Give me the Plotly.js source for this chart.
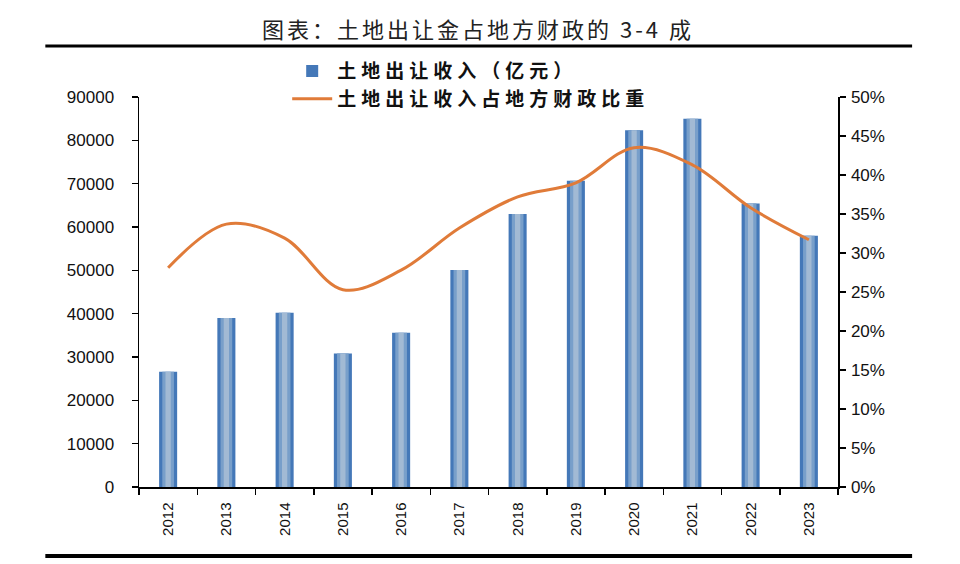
<!DOCTYPE html>
<html>
<head>
<meta charset="utf-8">
<script src="https://cdn.plot.ly/plotly-3.0.1.min.js"></script>
<style>
html,body{margin:0;padding:0;background:#fff;}
#chart{width:960px;height:564px;}
#chart .legendtext{letter-spacing:5px;}
#chart .legend .scrollbox, #chart .legend g{clip-path:none !important;}
#chart .annotation-text{letter-spacing:3px;}
</style>
</head>
<body>
<div id="chart"></div>
<script>
const years = ['2012','2013','2014','2015','2016','2017','2018','2019','2020','2021','2022','2023'];
const landRevenue = [26600, 39000, 40200, 30800, 35600, 50100, 63000, 70700, 82300, 85000, 65400, 58000];
const landShare = [0.281, 0.337, 0.319, 0.253, 0.278, 0.332, 0.372, 0.390, 0.435, 0.413, 0.358, 0.317];
const leftTicks = [0,10000,20000,30000,40000,50000,60000,70000,80000,90000];
const rightTicks = [0,0.05,0.10,0.15,0.20,0.25,0.30,0.35,0.40,0.45,0.50];
const titleText = '图表：土地出让金占地方财政的 3-4 成';
const barName = '土地出让收入（亿元）';
const lineName = '土地出让收入占地方财政比重';

const tickFont = {family:'Liberation Sans, Arial, sans-serif', size:17, color:'#111'};

const traces = [
  {type:'bar', x:years, y:landRevenue, name:barName, width:0.31,
   marker:{color:'#4478b8', line:{width:0}}, yaxis:'y', hoverinfo:'skip'},
  {type:'bar', x:years, y:landRevenue, width:0.2, showlegend:false,
   marker:{color:'#789fca', line:{width:0}}, yaxis:'y', hoverinfo:'skip'},
  {type:'bar', x:years, y:landRevenue, width:0.09, showlegend:false,
   marker:{color:'#a2bad4', line:{width:0}}, yaxis:'y', hoverinfo:'skip'},
  {type:'scatter', mode:'lines', x:years, y:landShare, name:lineName, yaxis:'y2',
   line:{color:'#e07b39', width:3, shape:'spline', smoothing:1}}
];

const layout = {
  width:960, height:564,
  paper_bgcolor:'#fff', plot_bgcolor:'#fff',
  margin:{l:139, r:122, t:97, b:77},
  barmode:'overlay',
  showlegend:true,
  legend:{x:0.212, xanchor:'left', y:1.115, yanchor:'top', orientation:'v',
    font:{family:'Noto Sans CJK SC', size:19, color:'#111', weight:700},
    bgcolor:'rgba(0,0,0,0)', traceorder:'normal', itemwidth:40, tracegroupgap:0},
  xaxis:{type:'category', showgrid:false, zeroline:false, showline:true, linecolor:'#000', linewidth:1.5,
    ticks:'outside', tickson:'boundaries', ticklen:6, tickcolor:'#000', tickwidth:1.5,
    tickangle:-90, tickfont:{family:'Liberation Sans, Arial, sans-serif', size:15, color:'#111'},
    ticklabelstandoff:8, range:[-0.5,11.5]},
  yaxis:{range:[0,90000], tickvals:leftTicks, ticktext:leftTicks.map(String), showgrid:false, zeroline:false,
    showline:true, linecolor:'#000', linewidth:1.5, ticks:'outside', ticklen:6, tickcolor:'#000', tickwidth:1.5,
    tickfont:tickFont, ticklabelstandoff:14},
  yaxis2:{range:[0,0.5], overlaying:'y', side:'right', tickvals:rightTicks,
    ticktext:rightTicks.map(v=>Math.round(v*100)+'%'), showgrid:false, zeroline:false,
    showline:true, linecolor:'#000', linewidth:1.5, ticks:'outside', ticklen:6, tickcolor:'#000', tickwidth:1.5,
    tickfont:tickFont, ticklabelstandoff:2},
  annotations:[{text:titleText, xref:'paper', yref:'paper', x:0.485, y:1.132, xanchor:'center', yanchor:'bottom',
    showarrow:false, font:{family:'Noto Sans CJK SC', size:22, color:'#222'}}],
  shapes:[
    {type:'line', xref:'paper', yref:'paper', x0:-0.134, x1:1.106, y0:1.131, y1:1.131, line:{color:'#000', width:3}},
    {type:'line', xref:'paper', yref:'paper', x0:-0.134, x1:1.106, y0:-0.177, y1:-0.177, line:{color:'#000', width:4}}
  ]
};

Plotly.newPlot('chart', traces, layout, {displayModeBar:false, staticPlot:true});
</script>
</body>
</html>
